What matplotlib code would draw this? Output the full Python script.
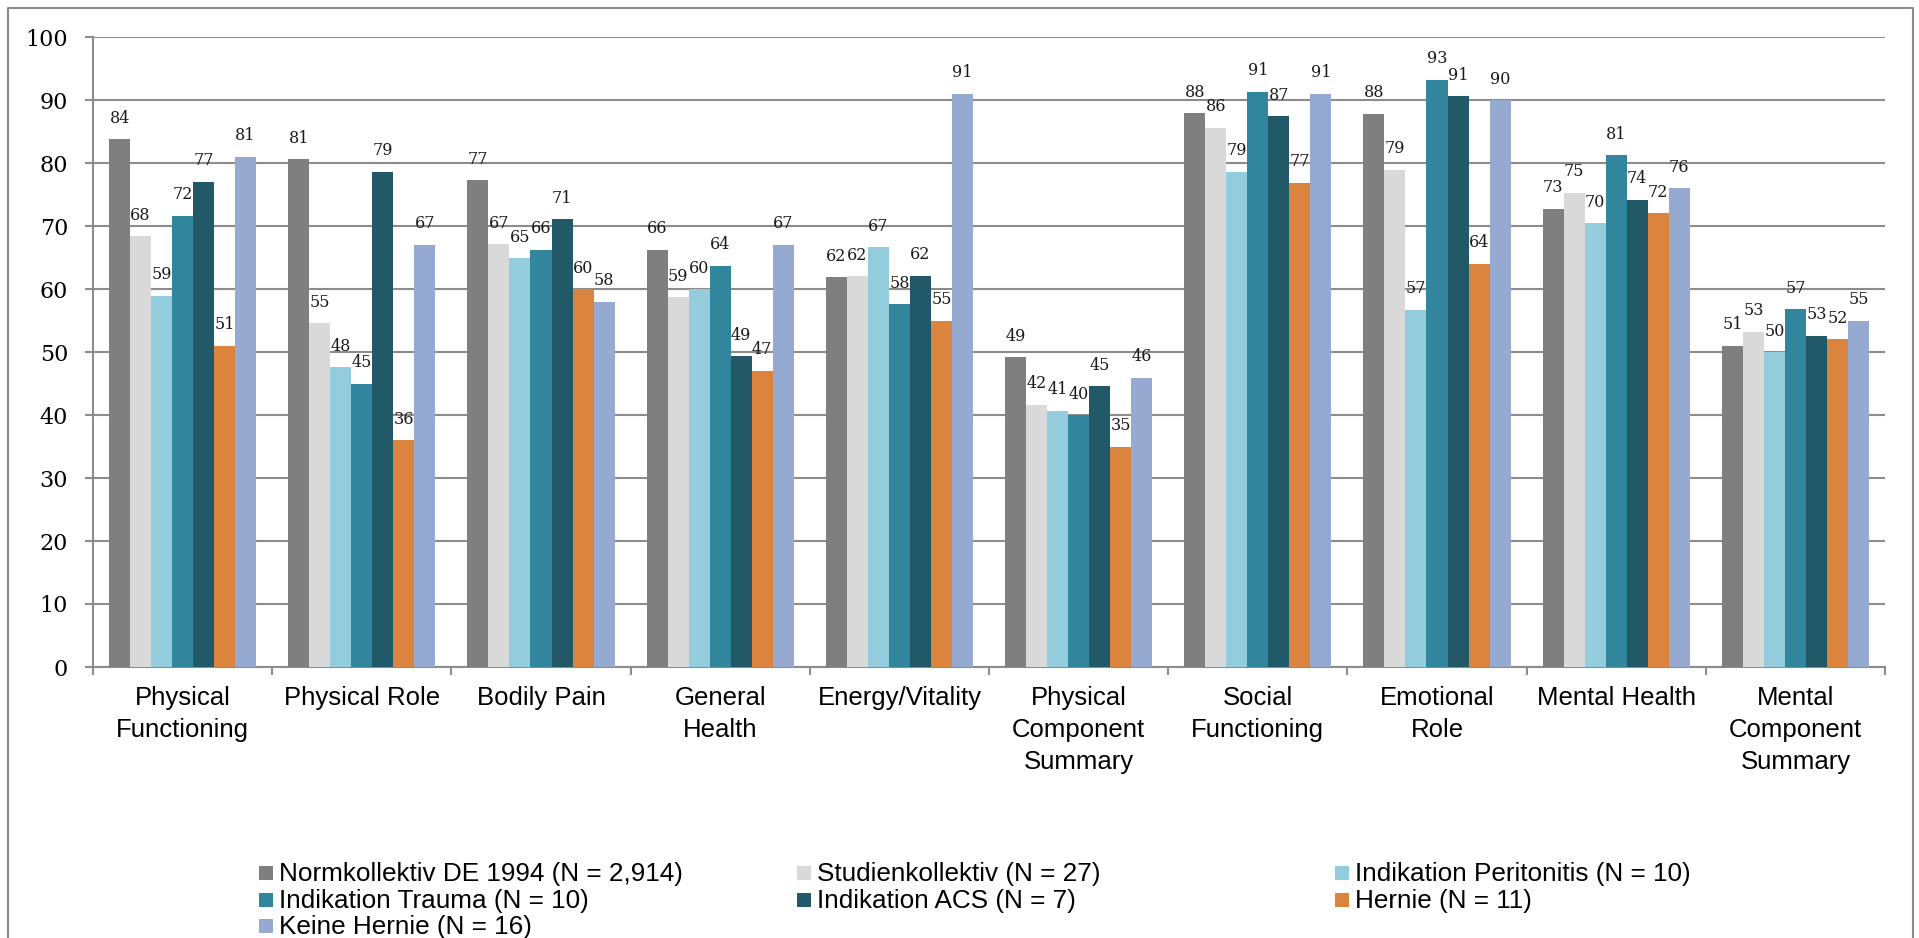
import matplotlib
matplotlib.use("Agg")
import matplotlib.pyplot as plt
from matplotlib.patches import Rectangle
from matplotlib.lines import Line2D
import numpy as np

categories = ["Physical\nFunctioning", "Physical Role", "Bodily Pain", "General\nHealth",
              "Energy/Vitality", "Physical\nComponent\nSummary", "Social\nFunctioning",
              "Emotional\nRole", "Mental Health", "Mental\nComponent\nSummary"]

series_names = ["Normkollektiv DE 1994 (N = 2,914)", "Studienkollektiv (N = 27)",
                "Indikation Peritonitis (N = 10)", "Indikation Trauma (N = 10)",
                "Indikation ACS (N = 7)", "Hernie (N = 11)", "Keine Hernie (N = 16)"]

normkollektiv = [83.8, 80.6, 77.3, 66.2, 61.9, 49.2, 87.9, 87.8, 72.7, 51.0]
studienkollektiv = [68.4, 54.6, 67.1, 58.7, 62.0, 41.6, 85.6, 78.9, 75.3, 53.2]
peritonitis = [58.9, 47.6, 64.9, 60.0, 66.6, 40.7, 78.6, 56.7, 70.4, 50.0]
trauma = [71.6, 45.0, 66.2, 63.7, 57.6, 40.0, 91.3, 93.2, 81.2, 56.8]
acs = [77.0, 78.6, 71.1, 49.3, 62.1, 44.6, 87.4, 90.6, 74.2, 52.6]
hernie = [51.0, 36.0, 60.0, 47.0, 55.0, 35.0, 76.9, 64.0, 72.0, 52.0]
keine_hernie = [81.0, 67.0, 58.0, 67.0, 91.0, 45.9, 91.0, 90.0, 76.0, 55.0]

y_ticks = [0, 10, 20, 30, 40, 50, 60, 70, 80, 90, 100]

colors = ["#7f7f7f", "#d9d9d9", "#93cddd", "#31859c", "#215968", "#db843d", "#95a9d1"]
all_series = [normkollektiv, studienkollektiv, peritonitis, trauma, acs, hernie, keine_hernie]

GRID = "#8c8c8c"
W, H = 1919, 938
fig = plt.figure(figsize=(W / 100, H / 100), dpi=100)
fig.patch.set_facecolor("white")

ax_left, ax_right, ax_top, ax_bottom = 93, 1885, 37, 667
ax = fig.add_axes([ax_left / W, 1 - ax_bottom / H, (ax_right - ax_left) / W, (ax_bottom - ax_top) / H])

n_cat = len(categories)
centers = np.arange(n_cat) + 0.5
bw = 0.1172
for j, (vals, col) in enumerate(zip(all_series, colors)):
    xs = centers + (j - 3) * bw
    ax.bar(xs, vals, width=bw, color=col, edgecolor="none", zorder=3)
    for x, v in zip(xs, vals):
        ax.annotate(f"{v:.0f}", (x, v), xytext=(0, 9), textcoords="offset points",
                    ha="center", va="bottom", fontsize=11.5, family="DejaVu Serif",
                    color="#1a1a1a", zorder=4)

ax.set_xlim(0, n_cat)
ax.set_ylim(0, 100)
ax.set_yticks(y_ticks)
ax.set_yticklabels([str(t) for t in y_ticks], family="DejaVu Serif", fontsize=16)
ax.yaxis.grid(True, color=GRID, lw=1.5)
ax.set_axisbelow(True)
ax.tick_params(axis="y", length=6, width=1.5, color=GRID, pad=12, direction="out")

ax.set_xticks(np.arange(n_cat + 1))
ax.set_xticklabels([])
ax.tick_params(axis="x", which="major", length=6, width=1.5, color=GRID, direction="out")
ax.set_xticks(centers, minor=True)
ax.set_xticklabels(categories, minor=True, family="Liberation Sans", fontsize=18.5,
                   linespacing=1.4)
ax.tick_params(axis="x", which="minor", length=0, pad=14)

for s in ["top", "right"]:
    ax.spines[s].set_visible(False)
for s in ["left", "bottom"]:
    ax.spines[s].set_color(GRID)
    ax.spines[s].set_linewidth(1.5)


def fx(px):
    return px / W


def fy(py):
    return 1 - py / H


# chart-area frame (open at the bottom edge)
frame = Line2D([fx(8), fx(8), fx(1913), fx(1913)], [fy(945), fy(8), fy(8), fy(945)],
               transform=fig.transFigure, color=GRID, lw=1.5)
fig.add_artist(frame)

# legend laid out row by row in three columns
col_x = [259, 797, 1335]
row_y = [873, 900, 926]
for i, (name, col) in enumerate(zip(series_names, colors)):
    r, c = divmod(i, 3)
    x0, yc = col_x[c], row_y[r]
    fig.add_artist(Rectangle((fx(x0), fy(yc + 7)), 14 / W, 14 / H, transform=fig.transFigure,
                             facecolor=col, edgecolor="none"))
    fig.text(fx(x0 + 20), fy(yc + 1), name, ha="left", va="center", fontsize=18.8,
             family="Liberation Sans", color="black")

fig.savefig("out.png", dpi=100, facecolor="white")
